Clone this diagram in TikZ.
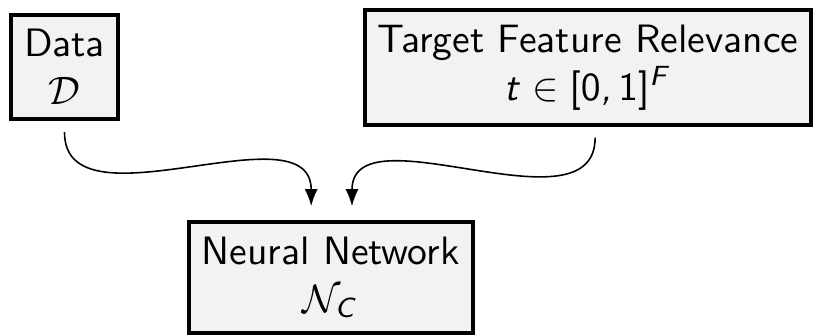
\documentclass[tikz,border=0pt]{standalone}
\renewcommand{\familydefault}{\sfdefault}
\SetSymbolFont{operators}{normal}{OT1}{cmss}{m}{n}
\SetSymbolFont{letters}{normal}{OT1}{cmss}{m}{sl}
\mathcode`\,="612C
\usetikzlibrary{arrows.meta}
\begin{document}
\begin{tikzpicture}[x=0.2525pt,y=-0.2525pt]
\tikzset{
    caja/.style={draw, line width=1pt, fill=gray!10, align=center, inner ysep=3.7pt},
    flecha/.style={-{Latex[length=4.3pt,width=3.3pt]}, thin}
}
\useasboundingbox (0,0) rectangle (822,335);
\node[caja] (datos) at (64.5,67) {Data\\ $\mathcal{D}$};
\node[caja] (relevancia) at (588,67.5) {Target Feature Relevance\\ $t \in [0,1]^F$};
\node[caja] (red) at (330.6,277.5) {Neural Network\\ $\mathcal{N}_C$};
\draw[flecha] ([yshift=-2.8pt]datos.south) to[out=-90,in=90] ([xshift=-4.9pt,yshift=3.6pt]red.north);
\draw[flecha] ([xshift=1.8pt,yshift=-2.8pt]relevancia.south) to[out=-90,in=90] ([xshift=5.4pt,yshift=3.6pt]red.north);
\end{tikzpicture}
\end{document}
